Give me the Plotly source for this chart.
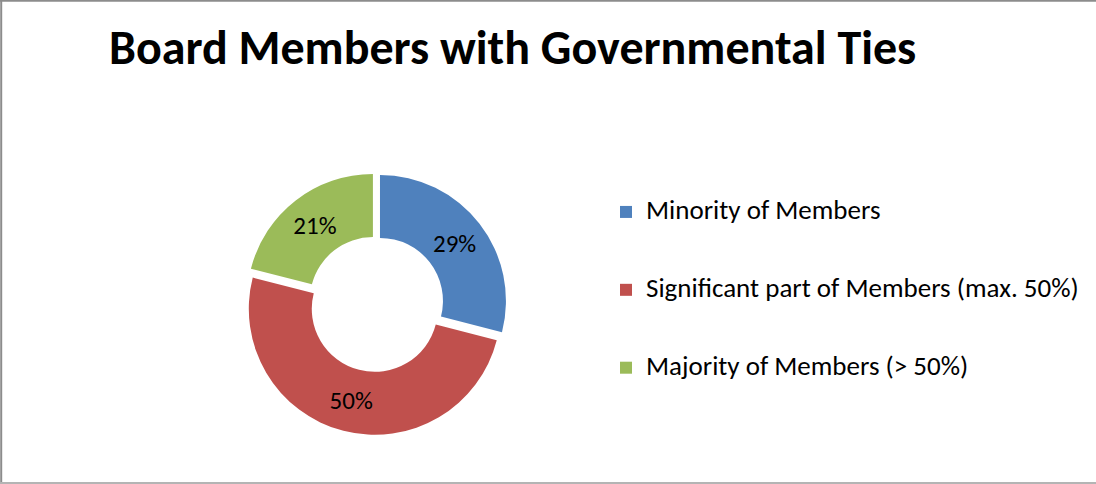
import plotly.graph_objects as go

categories = ["Minority of Members", "Significant part of Members (max. 50%)", "Majority of Members (> 50%)"]
values = [29, 50, 21]
colors = ["#4F81BD", "#C0504D", "#9BBB59"]
title_text = "Board Members with Governmental Ties"

W, H = 1096, 484
FONT = "Carlito, Lato, 'Open Sans', sans-serif"

# legend labels padded with blank lines to reproduce the wide legend spacing
legend_labels = ["&nbsp;<br><span style='font-size:27px'>" + c + "</span><br>&nbsp;" for c in categories]

cx, cy, R = 376, 304, 131
fig = go.Figure(go.Pie(
    labels=legend_labels,
    values=values,
    hole=0.5,
    sort=False,
    direction="clockwise",
    rotation=0,
    pull=[0.04, 0.04, 0.04],
    marker=dict(colors=colors, line=dict(width=0)),
    texttemplate="%{percent:.0%}",
    textposition="inside",
    insidetextorientation="horizontal",
    textfont=dict(family=FONT, size=25, color="#000000"),
    domain=dict(x=[(cx - R) / W, (cx + R) / W], y=[1 - (cy + R) / H, 1 - (cy - R) / H]),
    hoverinfo="percent",
))

fig.update_layout(
    width=W, height=H,
    margin=dict(l=0, r=0, t=0, b=0),
    paper_bgcolor="#FFFFFF",
    plot_bgcolor="#FFFFFF",
    title=dict(text="<b>" + title_text + "</b>", x=109 / W, xanchor="left",
               y=1 - 47 / H, yanchor="middle",
               font=dict(family=FONT, size=48, color="#000000")),
    showlegend=True,
    legend=dict(x=606 / W, xanchor="left", y=1 - 290 / H, yanchor="middle",
                font=dict(family=FONT, size=19.2, color="#000000"),
                bgcolor="rgba(0,0,0,0)", valign="middle"),
    shapes=[
        dict(type="line", xref="paper", yref="paper", x0=1.2 / W, x1=1.2 / W, y0=0, y1=1,
             line=dict(color="#8C8C8C", width=2)),
        dict(type="line", xref="paper", yref="paper", x0=0, x1=1.02, y0=1 - 0.8 / H, y1=1 - 0.8 / H,
             line=dict(color="#8C8C8C", width=2)),
        dict(type="line", xref="paper", yref="paper", x0=0, x1=1.02, y0=1 - 483 / H, y1=1 - 483 / H,
             line=dict(color="#B4B4B4", width=2)),
    ],
)

fig.write_html("out.html", config={"displayModeBar": False},
               post_script="document.body.style.margin='0';document.body.style.overflow='hidden';"
                           "document.documentElement.style.overflow='hidden';")
